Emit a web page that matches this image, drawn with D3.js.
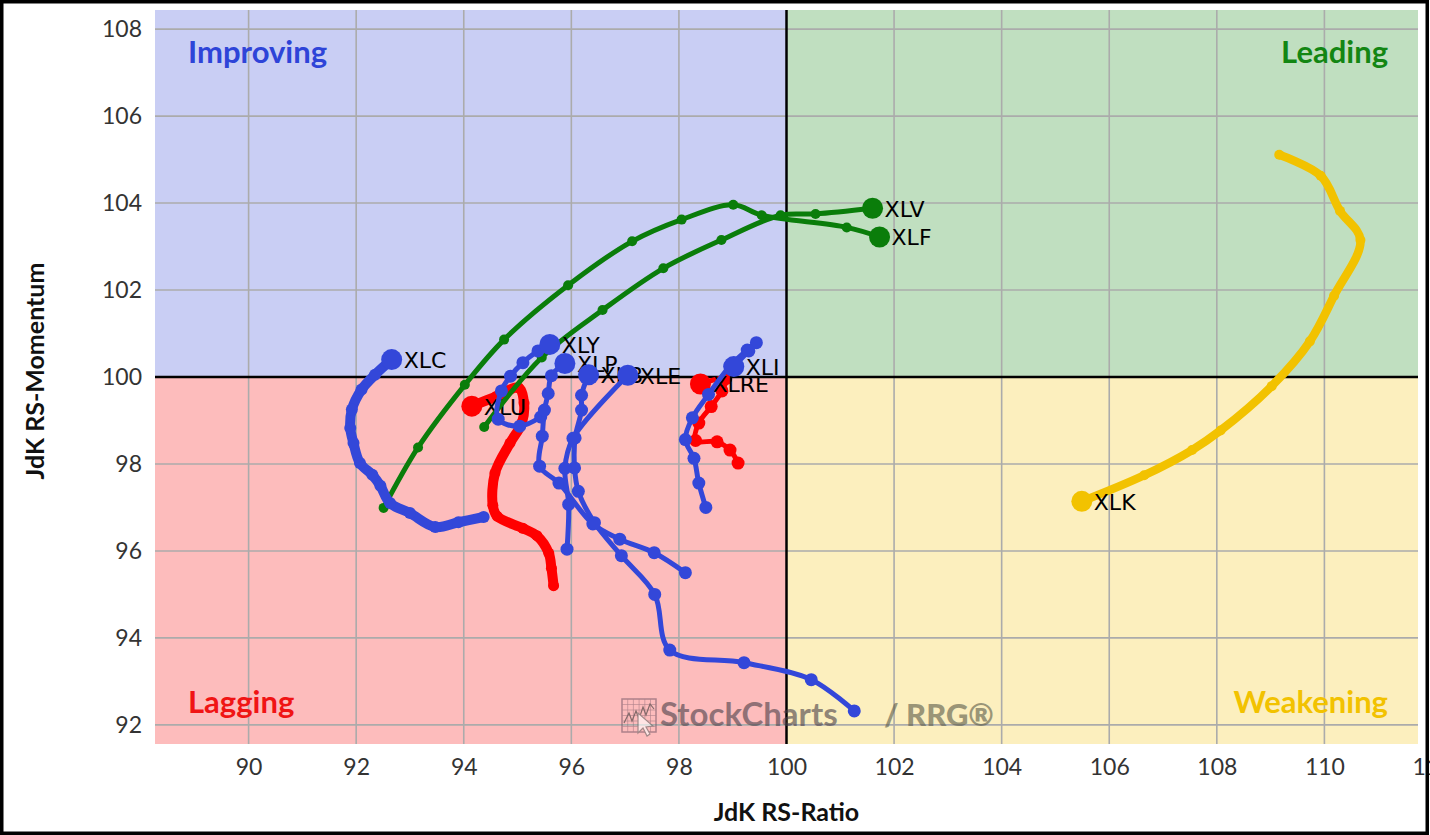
<!DOCTYPE html>
<html>
<head>
<meta charset="utf-8">
<script src="https://cdn.jsdelivr.net/npm/d3@7/dist/d3.min.js"></script>
<style>
  html, body { margin: 0; padding: 0; background: #fff; }
  svg { display: block; }
</style>
</head>
<body>
<div id="chart"></div>
<script>
// tails, oldest point first, head last: [JdK RS-Ratio, JdK RS-Momentum]
const XLK = [[109.16,105.11],[109.93,104.63],[110.29,103.82],[110.67,103.15],[110.18,101.87],[109.73,100.82],[109.02,99.79],[108.07,98.77],[107.54,98.32],[106.65,97.74],[105.49,97.14]];
const XLU = [[95.67,95.2],[95.63,95.6],[95.58,95.95],[95.36,96.35],[95.1,96.52],[94.62,96.8],[94.54,97.05],[94.58,97.79],[94.86,98.48],[95.08,98.94],[95.12,99.4],[95.02,99.75],[94.6,99.55],[94.15,99.33]];
const XLRE = [[99.1,98.02],[98.95,98.32],[98.71,98.51],[98.31,98.54],[98.37,98.94],[98.6,99.32],[98.8,99.68],[98.87,99.96],[98.4,99.84]];
const XLF = [[92.51,96.99],[93.15,98.38],[94.02,99.82],[94.75,100.86],[95.94,102.11],[97.13,103.12],[98.05,103.62],[99.01,103.96],[99.54,103.72],[101.12,103.44],[101.73,103.22]];
const XLV = [[94.38,98.85],[95.45,100.45],[96.58,101.54],[97.71,102.5],[98.79,103.15],[99.89,103.72],[100.54,103.75],[101.6,103.88]];
const XLC = [[94.37,96.78],[93.9,96.66],[93.47,96.55],[93.0,96.87],[92.63,97.1],[92.45,97.5],[92.3,97.75],[92.07,98.02],[91.95,98.48],[91.89,98.83],[91.92,99.25],[92.1,99.71],[92.35,100.05],[92.66,100.4]];
const XLY = [[95.43,99.08],[95.04,98.87],[94.64,99.03],[94.7,99.68],[94.87,100.02],[95.1,100.33],[95.38,100.6],[95.6,100.75]];
const XLP = [[98.12,95.5],[97.54,95.96],[96.9,96.27],[96.4,96.62],[95.77,97.56],[95.41,97.95],[95.46,98.64],[95.5,99.24],[95.57,99.62],[95.63,100.03],[95.88,100.31]];
const XLB = [[101.26,92.32],[100.46,93.04],[99.21,93.43],[97.83,93.72],[97.55,95.0],[96.93,95.89],[96.43,96.65],[96.13,97.37],[96.06,97.91],[96.07,98.6],[96.19,99.24],[96.19,99.58],[96.32,100.05]];
const XLE = [[95.92,96.04],[95.95,97.07],[95.88,97.9],[96.03,98.59],[97.05,100.04]];
const XLI = [[98.5,97.0],[98.37,97.56],[98.28,98.13],[98.12,98.56],[98.25,99.06],[98.55,99.6],[98.95,100.25],[99.27,100.62],[99.44,100.79],[99.3,100.6],[99.02,100.24]];

const tickers = ["XLK","XLU","XLRE","XLF","XLV","XLC","XLY","XLP","XLB","XLE","XLI"];
const tails = {XLK, XLU, XLRE, XLF, XLV, XLC, XLY, XLP, XLB, XLE, XLI};

const xTickValues = [90, 92, 94, 96, 98, 100, 102, 104, 106, 108, 110, 112];
const yTickValues = [92, 94, 96, 98, 100, 102, 104, 106, 108];
const quadrantNames = ["Improving", "Leading", "Lagging", "Weakening"];

// styling
const blue = "#3347d9", red = "#ff0000", green = "#0a7d0a", gold = "#f2c200";
const seriesColor = {XLK: gold, XLU: red, XLRE: red, XLF: green, XLV: green, XLC: blue,
  XLY: blue, XLP: blue, XLB: blue, XLE: blue, XLI: blue};
const seriesWidth = {XLK: 8.5, XLU: 10, XLRE: 5, XLF: 5, XLV: 5, XLC: 10,
  XLY: 5, XLP: 5, XLB: 5, XLE: 5, XLI: 5};
const dotR = {XLK: 5, XLU: 5.5, XLRE: 6.5, XLF: 5, XLV: 5, XLC: 6,
  XLY: 6.5, XLP: 6.5, XLB: 6.5, XLE: 6.5, XLI: 6.5};

const W = 1430, H = 835;
const plot = {left: 155, right: 1418, top: 10, bottom: 744};

const x = d3.scaleLinear().domain([88.26, 111.74]).range([plot.left, plot.right]);
const y = d3.scaleLinear().domain([91.56, 108.44]).range([plot.bottom, plot.top]);

const svg = d3.select("#chart").append("svg")
    .attr("width", W)
    .attr("height", H);

svg.append("rect").attr("width", W).attr("height", H).attr("fill", "#fff");

// quadrants
const qFill = ["#c9cef4", "#c0dfc0", "#fdbcbc", "#fcefbe"];
const qColor = ["#2e44d8", "#138613", "#f01414", "#f2c200"];
const x0 = x(100), y0 = y(100);
const qRects = [
  [plot.left, plot.top, x0, y0],
  [x0, plot.top, plot.right, y0],
  [plot.left, y0, x0, plot.bottom],
  [x0, y0, plot.right, plot.bottom]
];
svg.selectAll(".quad")
  .data(qRects)
  .enter().append("rect")
    .attr("class", "quad")
    .attr("x", d => d[0]).attr("y", d => d[1])
    .attr("width", d => d[2] - d[0]).attr("height", d => d[3] - d[1])
    .attr("fill", (d, i) => qFill[i]);

// grid
const grid = svg.append("g").attr("stroke", "#ababab").attr("stroke-width", 1.6);
grid.selectAll(".vx")
  .data(xTickValues.filter(v => x(v) > plot.left && x(v) < plot.right && v !== 100))
  .enter().append("line")
    .attr("x1", d => x(d)).attr("x2", d => x(d))
    .attr("y1", plot.top).attr("y2", plot.bottom);
grid.selectAll(".hy")
  .data(yTickValues.filter(v => v !== 100))
  .enter().append("line")
    .attr("y1", d => y(d)).attr("y2", d => y(d))
    .attr("x1", plot.left).attr("x2", plot.right);

// centre lines
svg.append("line").attr("x1", x0).attr("x2", x0).attr("y1", plot.top).attr("y2", plot.bottom)
  .attr("stroke", "#000").attr("stroke-width", 2.5);
svg.append("line").attr("y1", y0).attr("y2", y0).attr("x1", plot.left).attr("x2", plot.right)
  .attr("stroke", "#000").attr("stroke-width", 2.5);

// quadrant names
const qPos = [
  {x: 188, y: 63, anchor: "start"},
  {x: 1388, y: 63, anchor: "end"},
  {x: 188, y: 713, anchor: "start"},
  {x: 1388, y: 713, anchor: "end"}
];
svg.selectAll(".qname")
  .data(quadrantNames)
  .enter().append("text")
    .attr("class", "qname")
    .attr("x", (d, i) => qPos[i].x).attr("y", (d, i) => qPos[i].y)
    .attr("text-anchor", (d, i) => qPos[i].anchor)
    .attr("font-family", "Lato, sans-serif").attr("font-weight", "bold")
    .attr("font-size", 31)
    .attr("fill", (d, i) => qColor[i])
    .text(d => d);

// watermark
const wm = svg.append("g").attr("opacity", 0.6);
const ic = wm.append("g").attr("transform", "translate(622,699)");
ic.append("rect").attr("width", 34).attr("height", 33).attr("fill", "none")
  .attr("stroke", "#7a5a6a").attr("stroke-width", 1.5);
d3.range(1, 6).forEach(k => {
  ic.append("line").attr("x1", k * 5.7).attr("x2", k * 5.7).attr("y1", 0).attr("y2", 33)
    .attr("stroke", "#7a5a6a").attr("stroke-width", 0.6);
  ic.append("line").attr("y1", k * 5.5).attr("y2", k * 5.5).attr("x1", 0).attr("x2", 34)
    .attr("stroke", "#7a5a6a").attr("stroke-width", 0.6);
});
ic.append("polyline").attr("points", "2,24 7,14 10,22 14,12 17,20 21,8 24,16 28,5 32,10")
  .attr("fill", "none").attr("stroke", "#333").attr("stroke-width", 1.2);
ic.append("path").attr("d", "M16,14 L16,34 L21,29 L25,37 L28,35 L24,28 L31,27 Z")
  .attr("fill", "#fff").attr("stroke", "#666").attr("stroke-width", 1.2);
wm.append("text").attr("x", 660).attr("y", 726)
  .attr("font-family", "Lato, sans-serif").attr("font-weight", "bold").attr("font-size", 33)
  .attr("fill", "#4a3f48").text("StockCharts");
wm.append("text").attr("x", 884).attr("y", 726)
  .attr("font-family", "Lato, sans-serif").attr("font-weight", "900").attr("font-size", 31)
  .attr("fill", "#5a5a48").text("/ RRG®");

// tails
const line = d3.line()
    .x(d => x(d[0]))
    .y(d => y(d[1]))
    .curve(d3.curveCatmullRom.alpha(0.5));

tickers.forEach(t => {
  const data = tails[t];
  const g = svg.append("g").attr("class", "tail " + t);
  g.append("path")
    .datum(data)
    .attr("fill", "none")
    .attr("stroke", seriesColor[t])
    .attr("stroke-width", seriesWidth[t])
    .attr("stroke-linejoin", "round")
    .attr("stroke-linecap", "round")
    .attr("d", line);
  g.selectAll(".dot")
    .data(data.slice(0, -1))
    .enter().append("circle")
      .attr("class", "dot")
      .attr("cx", d => x(d[0]))
      .attr("cy", d => y(d[1]))
      .attr("r", dotR[t])
      .attr("fill", seriesColor[t]);
  const head = data[data.length - 1];
  g.append("circle")
    .attr("cx", x(head[0])).attr("cy", y(head[1]))
    .attr("r", 10.5)
    .attr("fill", seriesColor[t]);
  g.append("text")
    .attr("x", x(head[0]) + 12)
    .attr("y", y(head[1]) + 1)
    .attr("dominant-baseline", "central")
    .attr("font-family", "'DejaVu Sans', sans-serif")
    .attr("font-size", 22)
    .attr("fill", "#000")
    .text(t);
});

// axes
const xAxis = d3.axisBottom(x).tickValues(xTickValues).tickSize(0).tickPadding(15).tickFormat(d3.format("d"));
const yAxis = d3.axisLeft(y).tickValues(yTickValues).tickSize(0).tickPadding(13).tickFormat(d3.format("d"));

const gx = svg.append("g").attr("transform", `translate(0, ${plot.bottom})`).call(xAxis);
const gy = svg.append("g").attr("transform", `translate(${plot.left}, 0)`).call(yAxis);
[gx, gy].forEach(g => {
  g.select(".domain").remove();
  g.selectAll("text")
    .attr("font-family", "Lato, sans-serif")
    .attr("font-size", 23)
    .attr("fill", "#333");
});

svg.append("text")
  .attr("x", x(100)).attr("y", 821)
  .attr("text-anchor", "middle")
  .attr("font-family", "Lato, sans-serif").attr("font-weight", "bold").attr("font-size", 25)
  .attr("fill", "#111")
  .text("JdK RS-Ratio");

svg.append("text")
  .attr("transform", `translate(44, ${y(100) - 6}) rotate(-90)`)
  .attr("text-anchor", "middle")
  .attr("font-family", "Lato, sans-serif").attr("font-weight", "bold").attr("font-size", 25)
  .attr("fill", "#111")
  .text("JdK RS-Momentum");

// frame
svg.append("rect")
  .attr("x", 1.75).attr("y", 1.75)
  .attr("width", W - 4.5).attr("height", H - 3.5)
  .attr("fill", "none").attr("stroke", "#000").attr("stroke-width", 3.5);
</script>
</body>
</html>
